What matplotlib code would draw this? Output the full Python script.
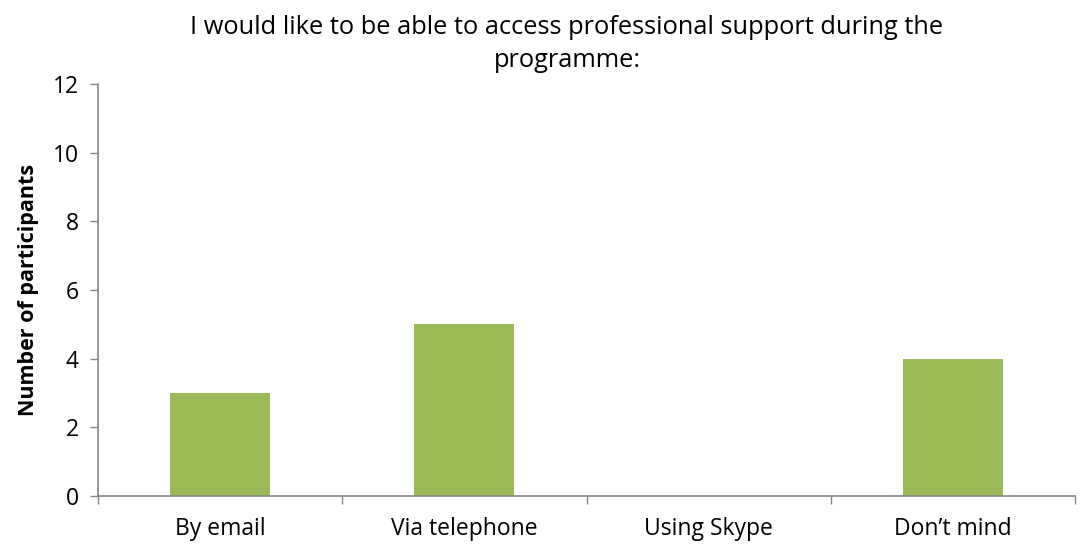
import matplotlib
matplotlib.use("Agg")
import matplotlib.pyplot as plt
import numpy as np

plt.rcParams['font.family'] = ['Open Sans', 'DejaVu Sans']

# Réponses au questionnaire
categories = ["By email", "Via telephone", "Using Skype", "Don\u2019t mind"]
participants = [3, 5, 0, 4]
y_ticks = [0, 2, 4, 6, 8, 10, 12]

fig = plt.figure(figsize=(10.81, 5.5), dpi=100)
ax = fig.add_axes([0.0907, 0.0982, 0.9038, 0.7488])

x = np.arange(len(categories))
ax.bar(x, participants, width=0.41, color='#9BBB59', zorder=2)

ax.set_xlim(-0.5, len(categories) - 0.5)
ax.set_ylim(0, 12)
ax.set_yticks(y_ticks)
ax.set_xticks(x)
ax.set_xticklabels(categories, fontsize=16.5)
ax.tick_params(axis='x', length=0, pad=15)
ax.set_xticks(np.arange(len(categories) + 1) - 0.5, minor=True)
ax.tick_params(axis='x', which='minor', length=6, color='#868686', width=1)
ax.tick_params(axis='y', labelsize=16.5, length=6, color='#868686', width=1, pad=8)

for side in ['top', 'right']:
    ax.spines[side].set_visible(False)
for side in ['left', 'bottom']:
    ax.spines[side].set_color('#868686')
    ax.spines[side].set_linewidth(1.2)

ax.set_ylabel("Number of participants", fontsize=15.5, fontweight='bold', labelpad=10)
ax.set_title("I would like to be able to access professional support during the\nprogramme:",
             fontsize=18.3, pad=12, linespacing=1.45, x=0.48)

fig.savefig("out.png", dpi=100)
